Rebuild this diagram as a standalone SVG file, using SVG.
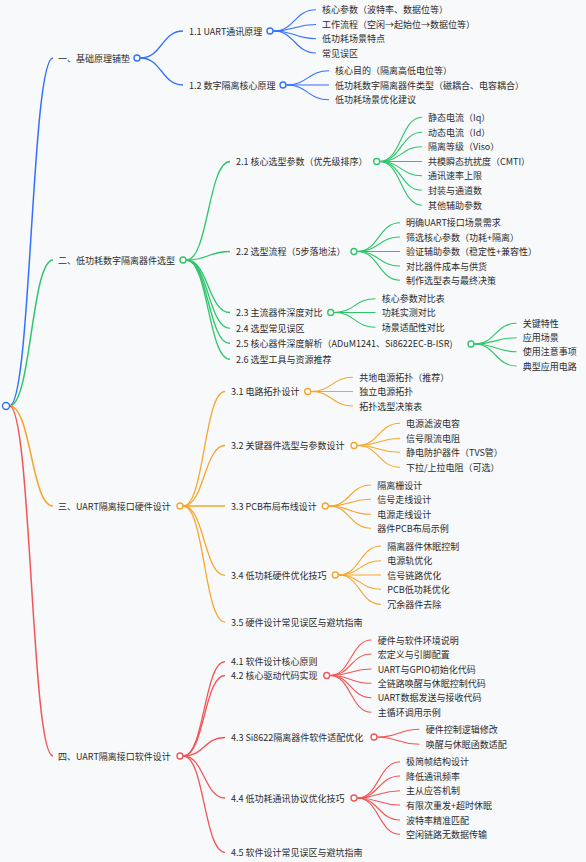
<svg xmlns="http://www.w3.org/2000/svg" width="586" height="862" viewBox="0 0 586 862">
<style>
text{font-family:"Noto Sans CJK SC","Noto Sans",sans-serif;font-size:9px;fill:#2b2b2b;dominant-baseline:central}
path{fill:none}
.b{stroke:#3370ff}.g{stroke:#2ec56a}.o{stroke:#f7a52a}.r{stroke:#f25555}
.l0{stroke-width:1.5}.l1{stroke-width:1.3}.l2{stroke-width:1.1}
circle{fill:#fff;stroke-width:1.4}
</style>
<rect width="586" height="862" fill="#f8f9fb"/>
<g id="connectors">
<path class="b l0" d="M9.5 406C31.25 406 31.25 58 53 58"/>
<path class="g l0" d="M9.5 406C31.25 406 31.25 260 53 260"/>
<path class="o l0" d="M9.5 406C31.25 406 31.25 506 53 506"/>
<path class="r l0" d="M9.5 406C31.25 406 31.25 756 53 756"/>
<path class="b l1" d="M140.5 58C161.75 58 161.75 31 183 31"/>
<path class="b l1" d="M140.5 58C161.75 58 161.75 85 183 85"/>
<path class="b l2" d="M273.5 31C294.75 31 294.75 9.7 316 9.7"/>
<path class="b l2" d="M273.5 31C294.75 31 294.75 24.5 316 24.5"/>
<path class="b l2" d="M273.5 31C294.75 31 294.75 38.7 316 38.7"/>
<path class="b l2" d="M273.5 31C294.75 31 294.75 53 316 53"/>
<path class="b l2" d="M286.5 85C307.75 85 307.75 70.7 329 70.7"/>
<path class="b l2" d="M286.5 85C307.75 85 307.75 85 329 85"/>
<path class="b l2" d="M286.5 85C307.75 85 307.75 99.7 329 99.7"/>
<path class="g l1" d="M186.5 260C208.25 260 208.25 161.5 230 161.5"/>
<path class="g l1" d="M186.5 260C208.25 260 208.25 251.5 230 251.5"/>
<path class="g l1" d="M186.5 260C208.25 260 208.25 312.5 230 312.5"/>
<path class="g l1" d="M186.5 260C208.25 260 208.25 328.3 230 328.3"/>
<path class="g l1" d="M186.5 260C208.25 260 208.25 343.5 230 343.5"/>
<path class="g l1" d="M186.5 260C208.25 260 208.25 359.3 230 359.3"/>
<path class="g l2" d="M380 161.5C401 161.5 401 117.3 422 117.3"/>
<path class="g l2" d="M380 161.5C401 161.5 401 132.3 422 132.3"/>
<path class="g l2" d="M380 161.5C401 161.5 401 146.7 422 146.7"/>
<path class="g l2" d="M380 161.5C401 161.5 401 161.5 422 161.5"/>
<path class="g l2" d="M380 161.5C401 161.5 401 175.7 422 175.7"/>
<path class="g l2" d="M380 161.5C401 161.5 401 190.3 422 190.3"/>
<path class="g l2" d="M380 161.5C401 161.5 401 205.3 422 205.3"/>
<path class="g l2" d="M357.5 251.5C378.75 251.5 378.75 222.7 400 222.7"/>
<path class="g l2" d="M357.5 251.5C378.75 251.5 378.75 237 400 237"/>
<path class="g l2" d="M357.5 251.5C378.75 251.5 378.75 251.5 400 251.5"/>
<path class="g l2" d="M357.5 251.5C378.75 251.5 378.75 266 400 266"/>
<path class="g l2" d="M357.5 251.5C378.75 251.5 378.75 280.3 400 280.3"/>
<path class="g l2" d="M334 312.5C354.75 312.5 354.75 298.7 375.5 298.7"/>
<path class="g l2" d="M334 312.5C354.75 312.5 354.75 312.5 375.5 312.5"/>
<path class="g l2" d="M334 312.5C354.75 312.5 354.75 327.3 375.5 327.3"/>
<path class="g l2" d="M474.5 344C495.5 344 495.5 323.3 516.5 323.3"/>
<path class="g l2" d="M474.5 344C495.5 344 495.5 337.7 516.5 337.7"/>
<path class="g l2" d="M474.5 344C495.5 344 495.5 351.7 516.5 351.7"/>
<path class="g l2" d="M474.5 344C495.5 344 495.5 366 516.5 366"/>
<path class="o l1" d="M183.5 506C204.25 506 204.25 391.5 225 391.5"/>
<path class="o l1" d="M183.5 506C204.25 506 204.25 445.5 225 445.5"/>
<path class="o l1" d="M183.5 506C204.25 506 204.25 506 225 506"/>
<path class="o l1" d="M183.5 506C204.25 506 204.25 575.3 225 575.3"/>
<path class="o l1" d="M183.5 506C204.25 506 204.25 622 225 622"/>
<path class="o l2" d="M311 391.5C332 391.5 332 377.3 353 377.3"/>
<path class="o l2" d="M311 391.5C332 391.5 332 391.5 353 391.5"/>
<path class="o l2" d="M311 391.5C332 391.5 332 406 353 406"/>
<path class="o l2" d="M357.5 445.5C378.75 445.5 378.75 423.3 400 423.3"/>
<path class="o l2" d="M357.5 445.5C378.75 445.5 378.75 438.3 400 438.3"/>
<path class="o l2" d="M357.5 445.5C378.75 445.5 378.75 452.3 400 452.3"/>
<path class="o l2" d="M357.5 445.5C378.75 445.5 378.75 467.3 400 467.3"/>
<path class="o l2" d="M328.8 506C349.9 506 349.9 485 371 485"/>
<path class="o l2" d="M328.8 506C349.9 506 349.9 499.3 371 499.3"/>
<path class="o l2" d="M328.8 506C349.9 506 349.9 514.3 371 514.3"/>
<path class="o l2" d="M328.8 506C349.9 506 349.9 528.3 371 528.3"/>
<path class="o l2" d="M338.8 575C359.9 575 359.9 546 381 546"/>
<path class="o l2" d="M338.8 575C359.9 575 359.9 560.7 381 560.7"/>
<path class="o l2" d="M338.8 575C359.9 575 359.9 575 381 575"/>
<path class="o l2" d="M338.8 575C359.9 575 359.9 589.3 381 589.3"/>
<path class="o l2" d="M338.8 575C359.9 575 359.9 604.3 381 604.3"/>
<path class="r l1" d="M183.5 756C204.25 756 204.25 661.7 225 661.7"/>
<path class="r l1" d="M183.5 756C204.25 756 204.25 675.5 225 675.5"/>
<path class="r l1" d="M183.5 756C204.25 756 204.25 737.5 225 737.5"/>
<path class="r l1" d="M183.5 756C204.25 756 204.25 798 225 798"/>
<path class="r l1" d="M183.5 756C204.25 756 204.25 852.3 225 852.3"/>
<path class="r l2" d="M330.2 675.5C350.85 675.5 350.85 640 371.5 640"/>
<path class="r l2" d="M330.2 675.5C350.85 675.5 350.85 654 371.5 654"/>
<path class="r l2" d="M330.2 675.5C350.85 675.5 350.85 669 371.5 669"/>
<path class="r l2" d="M330.2 675.5C350.85 675.5 350.85 683.3 371.5 683.3"/>
<path class="r l2" d="M330.2 675.5C350.85 675.5 350.85 697.7 371.5 697.7"/>
<path class="r l2" d="M330.2 675.5C350.85 675.5 350.85 712.3 371.5 712.3"/>
<path class="r l2" d="M377.5 737C398.5 737 398.5 729.3 419.5 729.3"/>
<path class="r l2" d="M377.5 737C398.5 737 398.5 744.3 419.5 744.3"/>
<path class="r l2" d="M357.5 798C378.75 798 378.75 761.7 400 761.7"/>
<path class="r l2" d="M357.5 798C378.75 798 378.75 776 400 776"/>
<path class="r l2" d="M357.5 798C378.75 798 378.75 790.7 400 790.7"/>
<path class="r l2" d="M357.5 798C378.75 798 378.75 805 400 805"/>
<path class="r l2" d="M357.5 798C378.75 798 378.75 820 400 820"/>
<path class="r l2" d="M357.5 798C378.75 798 378.75 834.3 400 834.3"/>
</g>
<g id="root"><circle class="b" cx="6" cy="406" r="3.5"/></g>
<g id="n1"><text x="58" y="58">一、基础原理铺垫</text><circle class="b" cx="137" cy="58" r="3"/></g>
<g id="n1-1"><text x="189" y="31">1.1 UART通讯原理</text><circle class="b" cx="270" cy="31" r="3"/></g>
<g id="n1-1-1"><text x="322" y="9.7">核心参数（波特率、数据位等）</text></g>
<g id="n1-1-2"><text x="322" y="24.5">工作流程（空闲→起始位→数据位等）</text></g>
<g id="n1-1-3"><text x="322" y="38.7">低功耗场景特点</text></g>
<g id="n1-1-4"><text x="322" y="53">常见误区</text></g>
<g id="n1-2"><text x="189" y="85">1.2 数字隔离核心原理</text><circle class="b" cx="283" cy="85" r="3"/></g>
<g id="n1-2-1"><text x="335" y="70.7">核心目的（隔离高低电位等）</text></g>
<g id="n1-2-2"><text x="335" y="85">低功耗数字隔离器件类型（磁耦合、电容耦合）</text></g>
<g id="n1-2-3"><text x="335" y="99.7">低功耗场景优化建议</text></g>
<g id="n2"><text x="58" y="260">二、低功耗数字隔离器件选型</text><circle class="g" cx="183" cy="260" r="3"/></g>
<g id="n2-1"><text x="236" y="161.5">2.1 核心选型参数（优先级排序）</text><circle class="g" cx="376.7" cy="161.5" r="3"/></g>
<g id="n2-1-1"><text x="428" y="117.3">静态电流（Iq）</text></g>
<g id="n2-1-2"><text x="428" y="132.3">动态电流（Id）</text></g>
<g id="n2-1-3"><text x="428" y="146.7">隔离等级（Viso）</text></g>
<g id="n2-1-4"><text x="428" y="161.5">共模瞬态抗扰度（CMTI）</text></g>
<g id="n2-1-5"><text x="428" y="175.7">通讯速率上限</text></g>
<g id="n2-1-6"><text x="428" y="190.3">封装与通道数</text></g>
<g id="n2-1-7"><text x="428" y="205.3">其他辅助参数</text></g>
<g id="n2-2"><text x="236" y="251.5">2.2 选型流程（5步落地法）</text><circle class="g" cx="354" cy="251.5" r="3"/></g>
<g id="n2-2-1"><text x="406" y="222.7">明确UART接口场景需求</text></g>
<g id="n2-2-2"><text x="406" y="237">筛选核心参数（功耗+隔离）</text></g>
<g id="n2-2-3"><text x="406" y="251.5">验证辅助参数（稳定性+兼容性）</text></g>
<g id="n2-2-4"><text x="406" y="266">对比器件成本与供货</text></g>
<g id="n2-2-5"><text x="406" y="280.3">制作选型表与最终决策</text></g>
<g id="n2-3"><text x="236" y="312.5">2.3 主流器件深度对比</text><circle class="g" cx="330.7" cy="312.5" r="3"/></g>
<g id="n2-3-1"><text x="381.7" y="298.7">核心参数对比表</text></g>
<g id="n2-3-2"><text x="381.7" y="312.5">功耗实测对比</text></g>
<g id="n2-3-3"><text x="381.7" y="327.3">场景适配性对比</text></g>
<g id="n2-4"><text x="236" y="328.3">2.4 选型常见误区</text></g>
<g id="n2-5"><text x="236" y="343.5">2.5 核心器件深度解析（ADuM1241、Si8622EC-B-ISR)</text><circle class="g" cx="471" cy="344" r="3"/></g>
<g id="n2-5-1"><text x="522.7" y="323.3">关键特性</text></g>
<g id="n2-5-2"><text x="522.7" y="337.7">应用场景</text></g>
<g id="n2-5-3"><text x="522.7" y="351.7">使用注意事项</text></g>
<g id="n2-5-4"><text x="522.7" y="366">典型应用电路</text></g>
<g id="n2-6"><text x="236" y="359.3">2.6 选型工具与资源推荐</text></g>
<g id="n3"><text x="58" y="506">三、UART隔离接口硬件设计</text><circle class="o" cx="180" cy="506" r="3"/></g>
<g id="n3-1"><text x="231" y="391.5">3.1 电路拓扑设计</text><circle class="o" cx="307.7" cy="391.5" r="3"/></g>
<g id="n3-1-1"><text x="359.3" y="377.3">共地电源拓扑（推荐）</text></g>
<g id="n3-1-2"><text x="359.3" y="391.5">独立电源拓扑</text></g>
<g id="n3-1-3"><text x="359.3" y="406">拓扑选型决策表</text></g>
<g id="n3-2"><text x="231" y="445.5">3.2 关键器件选型与参数设计</text><circle class="o" cx="354" cy="445.5" r="3"/></g>
<g id="n3-2-1"><text x="406" y="423.3">电源滤波电容</text></g>
<g id="n3-2-2"><text x="406" y="438.3">信号限流电阻</text></g>
<g id="n3-2-3"><text x="406" y="452.3">静电防护器件（TVS管）</text></g>
<g id="n3-2-4"><text x="406" y="467.3">下拉/上拉电阻（可选）</text></g>
<g id="n3-3"><text x="231" y="506">3.3 PCB布局布线设计</text><circle class="o" cx="325.3" cy="506" r="3"/></g>
<g id="n3-3-1"><text x="377.3" y="485">隔离栅设计</text></g>
<g id="n3-3-2"><text x="377.3" y="499.3">信号走线设计</text></g>
<g id="n3-3-3"><text x="377.3" y="514.3">电源走线设计</text></g>
<g id="n3-3-4"><text x="377.3" y="528.3">器件PCB布局示例</text></g>
<g id="n3-4"><text x="231" y="575.3">3.4 低功耗硬件优化技巧</text><circle class="o" cx="335.3" cy="575" r="3"/></g>
<g id="n3-4-1"><text x="387.3" y="546">隔离器件休眠控制</text></g>
<g id="n3-4-2"><text x="387.3" y="560.7">电源轨优化</text></g>
<g id="n3-4-3"><text x="387.3" y="575">信号链路优化</text></g>
<g id="n3-4-4"><text x="387.3" y="589.3">PCB低功耗优化</text></g>
<g id="n3-4-5"><text x="387.3" y="604.3">冗余器件去除</text></g>
<g id="n3-5"><text x="231" y="622">3.5 硬件设计常见误区与避坑指南</text></g>
<g id="n4"><text x="58" y="756">四、UART隔离接口软件设计</text><circle class="r" cx="180" cy="756" r="3"/></g>
<g id="n4-1"><text x="231" y="661.7">4.1 软件设计核心原则</text></g>
<g id="n4-2"><text x="231" y="675.5">4.2 核心驱动代码实现</text><circle class="r" cx="326.7" cy="675.5" r="3"/></g>
<g id="n4-2-1"><text x="377.7" y="640">硬件与软件环境说明</text></g>
<g id="n4-2-2"><text x="377.7" y="654">宏定义与引脚配置</text></g>
<g id="n4-2-3"><text x="377.7" y="669">UART与GPIO初始化代码</text></g>
<g id="n4-2-4"><text x="377.7" y="683.3">全链路唤醒与休眠控制代码</text></g>
<g id="n4-2-5"><text x="377.7" y="697.7">UART数据发送与接收代码</text></g>
<g id="n4-2-6"><text x="377.7" y="712.3">主循环调用示例</text></g>
<g id="n4-3"><text x="231" y="737.5">4.3 Si8622隔离器件软件适配优化</text><circle class="r" cx="374" cy="737" r="3"/></g>
<g id="n4-3-1"><text x="425.7" y="729.3">硬件控制逻辑修改</text></g>
<g id="n4-3-2"><text x="425.7" y="744.3">唤醒与休眠函数适配</text></g>
<g id="n4-4"><text x="231" y="798">4.4 低功耗通讯协议优化技巧</text><circle class="r" cx="354" cy="798" r="3"/></g>
<g id="n4-4-1"><text x="406" y="761.7">极简帧结构设计</text></g>
<g id="n4-4-2"><text x="406" y="776">降低通讯频率</text></g>
<g id="n4-4-3"><text x="406" y="790.7">主从应答机制</text></g>
<g id="n4-4-4"><text x="406" y="805">有限次重发+超时休眠</text></g>
<g id="n4-4-5"><text x="406" y="820">波特率精准匹配</text></g>
<g id="n4-4-6"><text x="406" y="834.3">空闲链路无数据传输</text></g>
<g id="n4-5"><text x="231" y="852.3">4.5 软件设计常见误区与避坑指南</text></g>
</svg>
